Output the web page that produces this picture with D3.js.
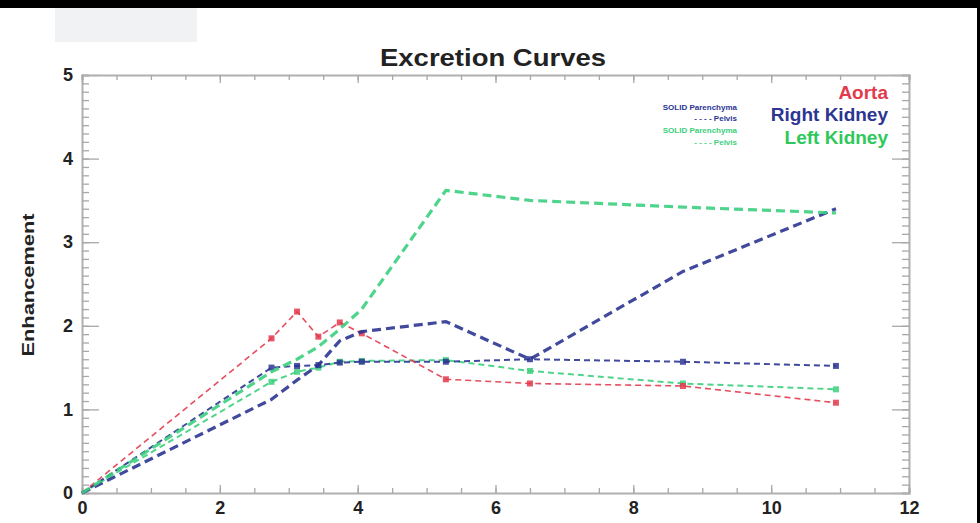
<!DOCTYPE html>
<html>
<head>
<meta charset="utf-8">
<script src="https://cdn.jsdelivr.net/npm/d3@7"></script>
<style>
  body { margin: 0; background: #fff; }
  svg { display: block; font-family: "Liberation Sans", Arial, sans-serif; }
  .axis path { stroke: #b0b0b0; stroke-width: 2; }
  .axis line { stroke: #a8a8a8; stroke-width: 1.3; }
  .axis text { font-weight: bold; font-size: 18px; fill: #222; }
</style>
</head>
<body>
<svg width="980" height="523"></svg>
<script>
// time points (minutes) shared by every curve
var times = [0, 2.75, 3.12, 3.43, 3.74, 4.06, 5.28, 6.5, 8.72, 10.94];

// enhancement values
var aorta        = [0, 1.85, 2.17, 1.87, 2.04, 1.91, 1.36, 1.31, 1.28, 1.08];
var rightPelvis  = [0, 1.12, 1.35, 1.53, 1.82, 1.93, 2.05, 1.60, 2.65, 3.40];
var rightParen   = [0, 1.50, 1.52, 1.53, 1.56, 1.57, 1.57, 1.60, 1.57, 1.52];
var leftPelvis   = [0, 1.45, 1.60, 1.75, 1.96, 2.20, 3.62, 3.50, 3.42, 3.35];
var leftParen    = [0, 1.33, 1.45, 1.50, 1.57, 1.58, 1.59, 1.46, 1.31, 1.24];

var xTicks = [0, 2, 4, 6, 8, 10, 12];
var yTicks = [0, 1, 2, 3, 4, 5];

var svg = d3.select("svg"),
  width = +svg.attr("width"),
  height = +svg.attr("height");

var red = "#e33a4c", blue = "#2c3592", green = "#3ccf7e", greenText = "#2ec95a";

// frame of the plot
var padL = 82, padR = 909, padT = 75, padB = 493;

var x = d3.scaleLinear().domain([0, 12]).range([padL, padR]);
var y = d3.scaleLinear().domain([0, 5]).range([padB, padT]);

// black scan edges and grey patch
svg.append("rect").attr("x", 0).attr("y", 0).attr("width", width).attr("height", 8).attr("fill", "#000");
svg.append("rect").attr("x", 977).attr("y", 0).attr("width", 3).attr("height", height).attr("fill", "#000");
svg.append("rect").attr("x", 55).attr("y", 8).attr("width", 142).attr("height", 34).attr("fill", "#f1f2f4");

// minor ticks
var yMinor = d3.range(0, 5.001, 0.1);
var xMinor = d3.range(0, 12.001, 0.5);

function styleAxis(g) {
  g.attr("class", "axis");
}

svg.append("g").attr("transform", "translate(" + padL + ",0)")
  .call(d3.axisLeft(y).tickValues(yMinor).tickSize(-7).tickFormat(""))
  .call(styleAxis);
svg.append("g").attr("transform", "translate(" + padL + ",0)")
  .call(d3.axisLeft(y).tickValues(yTicks).tickSize(-17).tickPadding(9).tickFormat(d3.format("d")))
  .call(styleAxis)
  .call(function (g) { g.select(".domain").remove(); });

svg.append("g").attr("transform", "translate(" + padR + ",0)")
  .call(d3.axisRight(y).tickValues(yMinor).tickSize(-7).tickFormat(""))
  .call(styleAxis);
svg.append("g").attr("transform", "translate(" + padR + ",0)")
  .call(d3.axisRight(y).tickValues(yTicks).tickSize(-17).tickFormat(""))
  .call(styleAxis)
  .call(function (g) { g.select(".domain").remove(); });

svg.append("g").attr("transform", "translate(0," + padB + ")")
  .call(d3.axisBottom(x).tickValues(xMinor).tickSize(-5).tickFormat(""))
  .call(styleAxis);
svg.append("g").attr("transform", "translate(0," + padB + ")")
  .call(d3.axisBottom(x).tickValues(xTicks).tickSize(-8).tickPadding(8).tickFormat(d3.format("d")))
  .call(styleAxis)
  .call(function (g) { g.select(".domain").remove(); });

svg.append("g").attr("transform", "translate(0," + padT + ")")
  .call(d3.axisTop(x).tickValues(xMinor).tickSize(-5).tickFormat(""))
  .call(styleAxis);
svg.append("g").attr("transform", "translate(0," + padT + ")")
  .call(d3.axisTop(x).tickValues(xTicks).tickSize(-8).tickFormat(""))
  .call(styleAxis)
  .call(function (g) { g.select(".domain").remove(); });

// curves
var series = [
  { values: leftParen,   color: green, width: 2,   dash: "6,4", marks: true },
  { values: rightParen,  color: blue,  width: 2,   dash: "6,4", marks: true },
  { values: aorta,       color: red,   width: 1.6, dash: "6,4", marks: true },
  { values: rightPelvis, color: blue,  width: 3.2, dash: "9,5", marks: false },
  { values: leftPelvis,  color: green, width: 3.2, dash: "9,5", marks: false }
];

var line = d3.line()
  .x(function (d, i) { return x(times[i]); })
  .y(function (d) { return y(d); });

series.forEach(function (s) {
  svg.append("path")
    .datum(s.values)
    .attr("d", line)
    .attr("fill", "none")
    .attr("stroke", s.color)
    .attr("stroke-width", s.width)
    .attr("stroke-dasharray", s.dash)
    .attr("opacity", 0.9);
  if (s.marks) {
    svg.append("g").selectAll("rect")
      .data(s.values.slice(1))
      .enter()
      .append("rect")
      .attr("x", function (d, i) { return x(times[i + 1]) - 3; })
      .attr("y", function (d) { return y(d) - 3; })
      .attr("width", 6)
      .attr("height", 6)
      .attr("fill", s.color)
      .attr("opacity", 0.85);
  }
});

// title and axis label
svg.append("text")
  .attr("x", 493).attr("y", 66)
  .attr("text-anchor", "middle")
  .attr("font-size", 24).attr("font-weight", "bold").attr("fill", "#222")
  .attr("textLength", 226).attr("lengthAdjust", "spacingAndGlyphs")
  .text("Excretion Curves");

svg.append("text")
  .attr("transform", "translate(34,285) rotate(-90)")
  .attr("text-anchor", "middle")
  .attr("font-size", 17).attr("font-weight", "bold").attr("fill", "#222")
  .attr("textLength", 143).attr("lengthAdjust", "spacingAndGlyphs")
  .text("Enhancement");

// legend
var legendNames = ["Aorta", "Right Kidney", "Left Kidney"];
var legendColors = [red, blue, greenText];
var legendY = [99, 121, 144];
legendNames.forEach(function (n, i) {
  svg.append("text")
    .attr("x", 888).attr("y", legendY[i])
    .attr("text-anchor", "end")
    .attr("font-size", 19).attr("font-weight", "bold")
    .attr("fill", legendColors[i])
    .text(n);
});

var keyText = ["SOLID Parenchyma", "- - - - Pelvis", "SOLID Parenchyma", "- - - - Pelvis"];
var keyColors = [blue, blue, green, green];
var keyY = [110, 121, 133, 145];
keyText.forEach(function (t, i) {
  svg.append("text")
    .attr("x", 737).attr("y", keyY[i])
    .attr("text-anchor", "end")
    .attr("font-size", 8).attr("font-weight", "bold")
    .attr("fill", keyColors[i])
    .text(t);
});
</script>
</body>
</html>
